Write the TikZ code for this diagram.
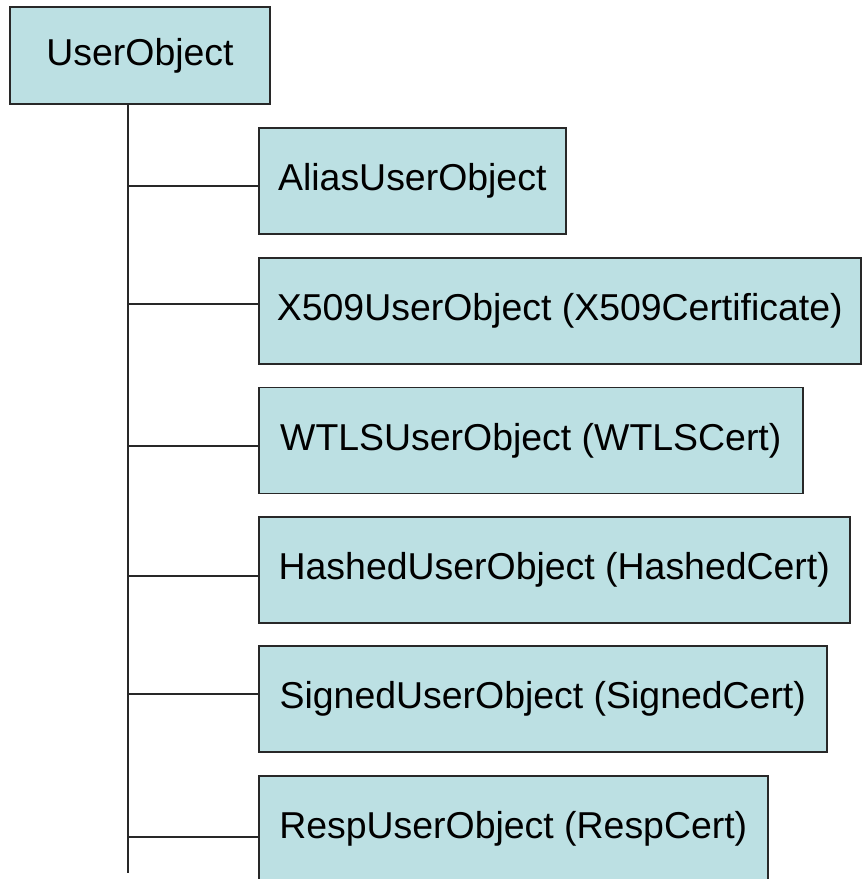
\documentclass[tikz,border=0pt]{standalone}
\usepackage{fontspec}
\setmainfont{Liberation Sans}
\usepackage{xcolor}
\usepackage{tikz}
\usetikzlibrary{positioning}

\definecolor{boxfill}{RGB}{188,224,227}
\definecolor{boxline}{RGB}{40,40,40}

\begin{document}
\begin{tikzpicture}[
  classbox/.style={draw=boxline, fill=boxfill, line width=0.9pt, rectangle,
    inner xsep=0pt, inner ysep=0pt, font=\fontsize{21.3}{25}\selectfont},
  tree/.style={line width=0.9pt, boxline}
]
  \useasboundingbox (0,0) rectangle (17.22,-17.58);

  % ======= root class =======
  \node[classbox, minimum width=5.2cm, minimum height=1.94cm] (root) at (2.8,-1.11) {UserObject};

  % trunk end point
  \coordinate (tbot) at (2.56,-17.46);
  \draw[tree] (root.south -| tbot) -- (tbot);

  % ======= subclasses: name / centre y / width / connector y / text =======
  \foreach \nm/\yc/\w/\cy/\txt in {
      alias/-3.62/6.14/-3.72/AliasUserObject,
      xfive/-6.22/12.04/-6.08/X509UserObject (X509Certificate),
      wtls/-8.81/10.88/-8.92/WTLSUserObject (WTLSCert),
      hashed/-11.40/11.82/-11.52/HashedUserObject (HashedCert),
      signed/-13.98/11.36/-13.88/SignedUserObject (SignedCert),
      resp/-16.58/10.18/-16.74/RespUserObject (RespCert)} {
    \node[classbox, anchor=west, minimum width=\w cm, minimum height=2.12cm] (\nm) at (5.16,\yc) {\txt};
    \draw[tree] (\nm.west |- 0,\cy) -- (tbot |- 0,\cy);
  }

\end{tikzpicture}
\end{document}
